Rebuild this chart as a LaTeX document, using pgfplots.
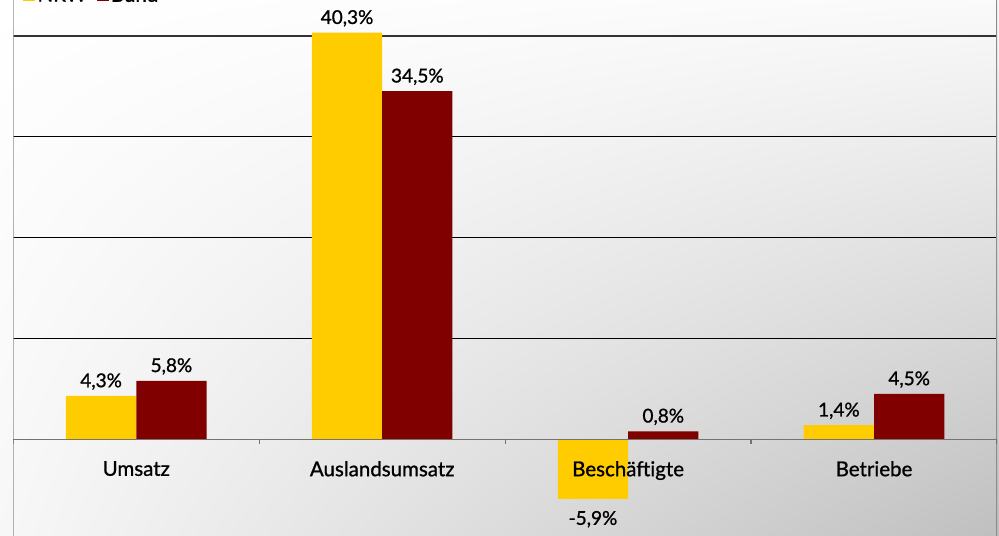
\documentclass[border=0pt]{standalone}
\usepackage{fontspec}
\setmainfont{Lato}[FakeBold=1]
\usepackage{pgfplots}
\pgfplotsset{compat=1.18}
\usetikzlibrary{shadings}
\definecolor{nrw}{HTML}{FFCC00}
\definecolor{bund}{HTML}{800000}
\begin{document}
\begin{tikzpicture}
\shade[upper left=white, upper right=black!2, lower left=black!3, lower right=black!25] (0,0) rectangle (999bp,536bp);
\begin{axis}[
  at={(13.3bp,0bp)}, anchor=south west,
  scale only axis, width=983.7bp, height=536bp,
  xmin=-0.5, xmax=3.5, ymin=-9.58, ymax=43.54,
  ybar=0pt, bar width=70.3bp,
  axis on top,
  axis x line*=middle, axis y line=none,
  x axis line style={draw=black!55, line width=1.6bp, -},
  xtick={0,1,2,3}, xticklabels={Umsatz,Auslandsumsatz,Beschäftigte,Betriebe},
  xtick style={draw=none},
  xticklabel style={font=\fontsize{20.5bp}{24bp}\selectfont, yshift=-14bp},
  ytick=\empty,
  visualization depends on={y \as \rawy},
  nodes near coords={\pgfmathprintnumber[fixed,fixed zerofill,precision=1,use comma,assume math mode=true]{\pgfplotspointmeta}\%},
  every node near coord/.append style={font=\fontsize{19bp}{22bp}\selectfont, inner ysep=6bp, black,
    yshift={ifthenelse(\rawy<0,-6,0)}},
  legend columns=2,
  legend style={draw=none, fill=none, at={(0,1)}, anchor=west, xshift=7bp, yshift=5bp,
    font=\fontsize{20.5bp}{24bp}\selectfont,
    /tikz/every even column/.append style={column sep=8bp}},
  legend image code/.code={\draw[#1,draw=none] (0bp,-6bp) rectangle (12bp,6bp);},
]
\pgfplotsinvokeforeach{10,20,30}{\draw[black, line width=0.9bp] (axis cs:-0.5,#1) -- (axis cs:3.5,#1);}
\draw[black!80, line width=1.6bp] (axis cs:-0.5,40) -- (axis cs:3.5,40);
\addplot[fill=nrw, draw=none] coordinates {(0,4.3) (1,40.3) (2,-5.9) (3,1.4)};
\addplot[fill=bund, draw=none] coordinates {(0,5.8) (1,34.5) (2,0.8) (3,4.5)};
\legend{NRW,Bund}
\draw[black!45, line width=1.5bp] (rel axis cs:0,0) -- (rel axis cs:0,1);
\draw[black!45, line width=1.5bp] (rel axis cs:1,0) -- (rel axis cs:1,1);
\pgfplotsinvokeforeach{-0.5,0.5,1.5,2.5,3.5}{\draw[black!55, line width=1.2bp] (axis cs:#1,0) -- ++(0pt,-5bp);}
\end{axis}
\pgfresetboundingbox
\useasboundingbox (0,0) rectangle (999bp,536bp);
\end{tikzpicture}
\end{document}
